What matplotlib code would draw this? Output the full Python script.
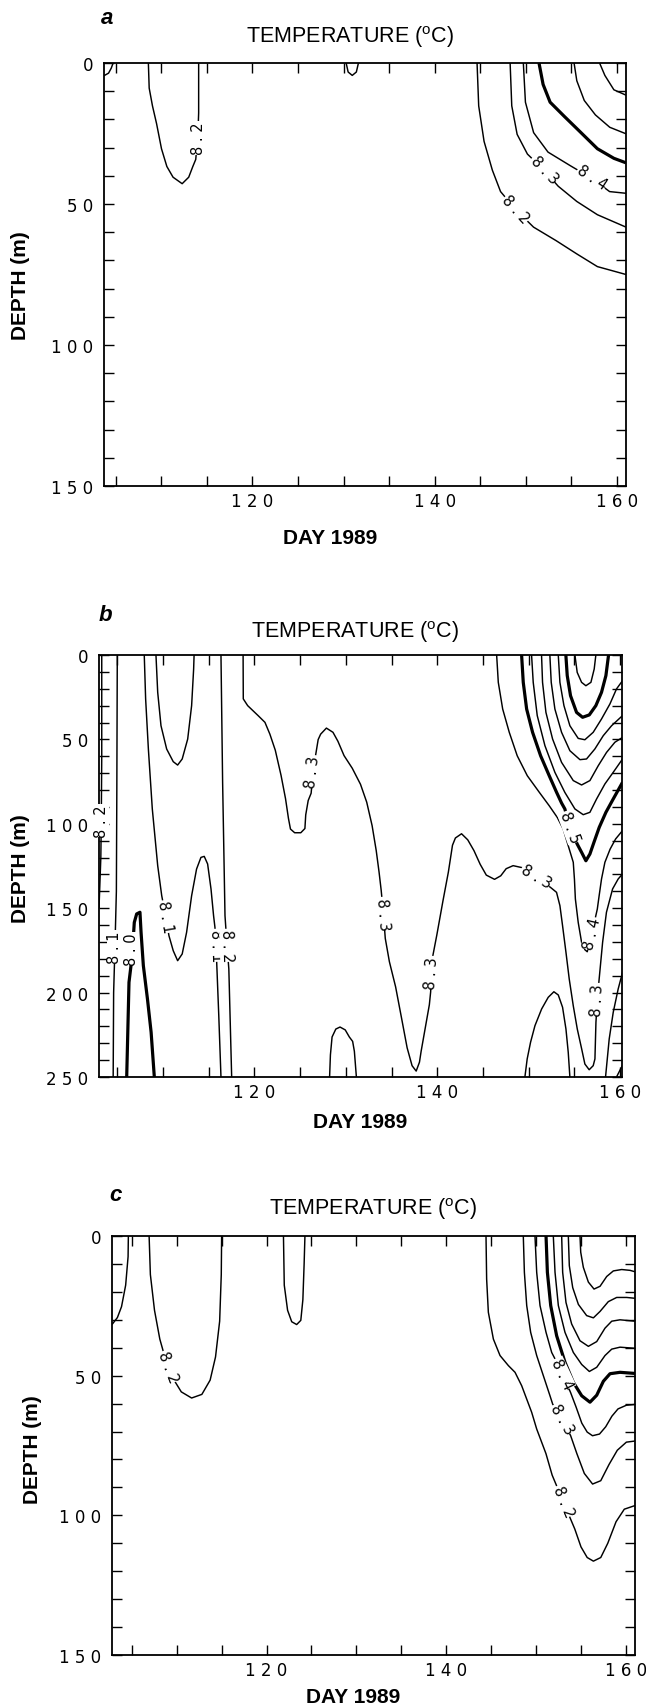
import matplotlib.pyplot as plt

plt.rcParams['font.family'] = ['DejaVu Sans']
plt.rcParams['mathtext.fontset'] = 'custom'
plt.rcParams['mathtext.rm'] = 'Liberation Sans'

# contour lines: (day of 1989, depth in m)

# ---- panel a
a_corner = [(103.7, 4.5), (104.2, 3.6), (104.5, 1.8), (104.7, 0)]
a_82_u = [(108.57, 0), (108.66, 8.9), (109.02, 15.2), (109.47, 21.5), (110.01, 30.4), (110.6, 36.7),
          (111.28, 40.5), (112.28, 42.8), (113.0, 40.5), (113.45, 36.7), (113.77, 34.2), (114.0, 26),
          (114.09, 17.7), (114.09, 0)]
a_bump = [(130.28, 0), (130.5, 3.2), (130.95, 4.4), (131.4, 3.2), (131.63, 0)]
a_82 = [(144.65, 0), (144.83, 15.2), (145.42, 27.8), (146.33, 38), (147.23, 45.6), (148.9, 52),
        (150.85, 58.2), (153.33, 63), (155.6, 67.7), (157.86, 72.2), (161.0, 75)]
a_83 = [(148.28, 0), (148.46, 15.2), (149.05, 25.3), (150.18, 32.3), (152.0, 38), (153.56, 43.7),
        (155.6, 49.1), (157.86, 53.8), (161.0, 58.2)]
a_84 = [(149.73, 0), (149.96, 13.9), (150.86, 24.7), (152.44, 31.6), (154.93, 36.5), (157.3, 41),
        (159.2, 45.6), (161.0, 46.2)]
a_85 = [(151.45, 0), (151.9, 7.6), (152.67, 13.9), (154.25, 19), (156.06, 24.7), (157.86, 30.4),
        (159.67, 33.8), (161.0, 35.4)]
a_86 = [(155.3, 0), (155.6, 6.3), (156.42, 13.3), (157.64, 18.4), (159.22, 22.8), (161.0, 25.1)]
a_87 = [(158.1, 0), (158.68, 4.4), (159.67, 9.5), (161.0, 11.4)]
a_labels = [(114.05, 26.6, '8.2', 90), (148.9, 51.9, '8.2', -47),
            (152.0, 37.7, '8.3', -46), (157.3, 40.5, '8.4', -33)]

# ---- panel b
b_82_edge = [(103.3, 0), (103.3, 60), (103.25, 98), (103.2, 120), (103.0, 150)]
b_81_a = [(105.0, 0), (104.95, 80), (104.9, 140), (104.75, 172), (104.6, 200), (104.55, 250)]
b_80 = [(106.03, 250), (106.28, 193.9), (106.5, 184), (106.7, 172), (106.86, 158.4), (107.12, 153.4),
        (107.48, 152.4), (107.6, 164.3), (107.85, 184), (108.3, 203.8), (108.7, 223.5), (109.05, 250)]
b_81_b = [(107.95, 0), (108.1, 26), (108.4, 55.7), (108.83, 91.2), (109.42, 124.8), (109.86, 142.6),
          (110.3, 155), (110.65, 166.3), (111.12, 175.2), (111.6, 181.1), (112.1, 177.1), (112.58, 164.3),
          (113.13, 142.6), (113.67, 126.8), (114.15, 119.9), (114.51, 119.3), (114.88, 123.8),
          (115.25, 138.6), (115.53, 154.4), (115.68, 161.3), (115.8, 172), (115.9, 186), (116.1, 213.7),
          (116.34, 250)]
b_u = [(109.23, 0), (109.42, 22.1), (109.78, 41.9), (110.4, 55.7), (111.12, 63.2), (111.6, 65.2),
       (112.1, 61.6), (112.7, 49.8), (113.13, 30), (113.35, 8.3), (113.4, 0)]
b_82 = [(116.34, 0), (116.52, 75.4), (116.78, 154.4), (117.0, 172), (117.2, 186), (117.51, 250)]
b_83 = [(118.76, 0), (118.78, 26), (119.26, 30), (120.42, 36), (121.15, 39.9), (121.69, 46.9),
        (122.28, 56.4), (122.91, 71.3), (123.4, 85.1), (123.72, 96.8), (123.94, 103.1), (124.4, 105.3),
        (125.07, 105.3), (125.52, 102.8), (125.61, 94.7), (125.88, 86.2), (126.2, 81.9), (126.4, 70),
        (126.65, 60.7), (126.97, 50.1), (127.24, 46.9), (127.87, 43.3), (128.59, 45.8), (129.13, 51.1),
        (129.8, 59.6), (130.7, 67.1), (131.6, 76.6), (132.28, 87.2), (132.87, 101.1), (133.32, 115.9),
        (133.63, 128.6), (133.86, 139.3), (134.1, 153), (134.31, 167.9), (134.76, 181.7),
        (135.44, 196.6), (136.11, 215.7), (136.7, 232.7), (137.24, 243.3), (137.69, 246.5),
        (138.05, 241.2), (138.23, 234.8), (138.68, 221), (139.13, 207.2), (139.27, 199.7), (139.4, 188),
        (139.5, 178.5), (139.95, 165.8), (140.62, 145.6), (141.21, 128.6), (141.66, 112.7),
        (141.98, 108.4), (142.65, 105.9), (143.33, 109.5), (144.01, 115.9), (144.69, 124),
        (145.36, 130.4), (146.26, 132.9), (146.94, 130.8), (147.53, 126.6), (148.29, 124.8),
        (149.3, 126), (150.8, 131), (152.5, 138.2), (153.04, 140.6), (153.41, 148.5), (153.7, 160.4),
        (154.07, 176.1), (154.43, 192), (154.87, 207.8), (155.31, 221.6), (155.79, 233.4),
        (156.14, 242.3), (156.61, 245.7), (157.05, 243.3), (157.24, 239.3), (157.35, 217.6),
        (157.5, 204), (157.7, 192), (158.08, 170.2), (158.5, 152.4), (159.17, 138.6), (159.78, 132.7),
        (160.26, 129.7)]
b_84 = [(146.49, 0), (146.67, 16.2), (147.15, 32), (147.87, 45.8), (148.74, 59.7), (149.84, 71.5),
        (151.15, 81.3), (152.24, 89.3), (153.12, 96.2), (153.77, 103.1), (154.32, 113), (154.87, 122.8),
        (155.0, 133), (155.1, 144.5), (155.41, 158.4), (155.78, 170.2), (156.14, 174.6), (156.4, 175.8),
        (156.9, 165), (157.5, 150.5), (157.7, 142.6), (157.96, 132.7), (158.33, 122.8), (158.9, 115),
        (159.5, 109), (160.26, 104)]
b_85 = [(149.22, 0), (149.4, 16.2), (149.77, 32), (150.42, 45.8), (151.3, 59.7), (152.24, 71.5),
        (153.04, 81.3), (153.59, 87.7), (153.95, 91.2), (154.5, 102), (155.3, 112), (155.78, 116.9),
        (156.25, 121.9), (156.69, 117.9), (157.13, 111), (157.71, 102.1), (158.44, 93.2),
        (159.24, 85.3), (160.26, 75.4)]
b_86 = [(150.31, 0), (150.49, 16.2), (150.93, 35.9), (151.77, 53.7), (152.86, 69.5), (153.95, 81.4),
        (155.05, 91.2), (155.96, 94.6), (156.69, 93.2), (157.42, 85.3), (158.33, 76.4), (159.24, 69.5),
        (160.26, 61.6)]
b_87 = [(151.4, 0), (151.51, 16.2), (151.88, 34), (152.61, 49.8), (153.59, 63.6), (154.87, 74.4),
        (155.78, 77), (156.69, 74.4), (157.6, 65.6), (158.51, 57.7), (159.42, 51.7), (160.26, 48.8)]
b_88 = [(152.31, 0), (152.46, 16.2), (152.86, 32), (153.59, 45.8), (154.5, 56.7), (155.6, 62),
        (156.32, 61.6), (157.23, 55.7), (158.15, 47.8), (159.06, 41.9), (160.26, 35.9)]
b_89 = [(153.23, 0), (153.41, 16.2), (153.85, 30), (154.5, 41.9), (155.41, 49.4), (156.14, 50.2),
        (157.05, 45.8), (157.96, 37.9), (158.88, 29), (159.6, 20.1), (160.26, 15.2)]
b_90 = [(154.06, 0), (154.21, 12.2), (154.57, 24.1), (155.23, 34), (155.89, 36.9), (156.62, 35.5),
        (157.34, 30), (157.96, 22.1), (158.44, 12.2), (158.73, 0)]
b_91 = [(155.05, 0), (155.3, 10.3), (155.78, 16.2), (156.25, 18.2), (156.8, 16.2), (157.16, 8.3),
        (157.34, 0)]
b_mound1 = [(128.22, 250), (128.31, 236.9), (128.49, 226.3), (128.9, 221.6), (129.36, 220.4),
            (129.93, 222.1), (130.38, 226.3), (130.74, 228.9), (130.93, 234.8), (131.15, 250)]
b_mound2 = [(149.58, 250), (149.83, 239.3), (150.2, 229.4), (150.68, 219.6), (151.41, 209.7),
            (152.13, 202.8), (152.75, 199.5), (153.23, 201.4), (153.7, 208.7), (154.07, 221.6),
            (154.32, 235.4), (154.5, 250)]
b_low1 = [(158.4, 250), (158.8, 227.5), (159.24, 211.7), (159.78, 197.9), (160.26, 188)]
b_low2 = [(159.6, 250), (160.26, 243)]
b_labels = [(103.25, 98, '8.2', 90), (104.7, 173, '8.1', 90), (106.55, 174, '8.0', 90),
            (110.3, 155, '8.1', -80), (115.75, 172, '8.1', -88), (117.05, 172, '8.2', -88),
            (126.4, 69, '8.3', 83), (134.1, 153, '8.3', -85), (139.4, 188, '8.3', 86),
            (150.8, 131, '8.3', -30), (154.5, 102, '8.5', -70), (156.9, 165, '8.4', 77),
            (157.5, 204, '8.3', 87)]

# ---- panel c
c_corner = [(104.62, 0), (104.59, 7.4), (104.32, 17.6), (103.86, 25.3), (103.4, 29.2), (102.8, 31.7)]
c_82_u = [(106.93, 0), (107.07, 13.8), (107.53, 26.6), (108.12, 36.9), (108.68, 43.3), (109.0, 47),
          (109.59, 51), (110.51, 55.8), (111.66, 58), (112.8, 56.7), (113.72, 51.6), (114.32, 43.3),
          (114.78, 30.5), (114.96, 13.8), (115.0, 0)]
c_u2 = [(121.88, 0), (121.97, 17.6), (122.34, 26.6), (122.8, 30.7), (123.35, 31.7), (123.81, 30.2),
        (124.04, 22.8), (124.18, 10), (124.27, 0)]
c_82 = [(144.42, 0), (144.49, 15.4), (144.68, 27.3), (145.24, 36.9), (145.98, 42.8), (146.91, 46.4),
        (147.65, 48.8), (148.39, 53.6), (148.95, 58.4), (149.5, 63.1), (150.06, 69.1), (151.09, 77.9),
        (151.78, 85.6), (153.0, 95), (154.3, 104.9), (154.99, 111.3), (155.68, 115.1), (156.37, 116.4),
        (157.19, 115.1), (157.97, 110), (158.89, 102.3), (159.81, 97.8), (161.0, 96.5)]
c_83 = [(148.57, 0), (148.69, 13), (148.95, 24.9), (149.39, 34.5), (150.06, 42.8), (150.8, 50),
        (151.54, 57.2), (151.84, 60.2), (152.9, 65.5), (153.84, 71.5), (154.53, 77.9), (155.36, 85),
        (156.28, 88.8), (157.19, 87.6), (158.11, 81.8), (159.03, 76.7), (160.04, 73.8), (161.0, 73.4)]
c_84 = [(149.87, 0), (150.06, 13), (150.43, 24.9), (151.1, 34.5), (151.73, 41.7), (152.9, 49),
        (153.84, 56.1), (154.44, 61.2), (155.08, 67), (155.68, 70.2), (156.27, 71.5), (157.05, 70.9),
        (157.74, 68.3), (158.43, 64.5), (159.11, 61.9), (160.03, 60.6), (161.0, 60.3)]
c_85 = [(151.1, 0), (151.25, 13), (151.62, 24.9), (152.28, 35.7), (153.21, 45.2), (154.14, 52.4),
        (155.07, 57.2), (155.99, 59.5), (156.74, 57), (157.48, 52), (158.22, 49.3), (159.33, 48.8),
        (161.0, 49.2)]
c_86 = [(151.91, 0), (152.1, 13), (152.47, 24.9), (153.21, 34.5), (154.14, 41.7), (155.07, 46),
        (155.92, 48.5), (156.74, 47), (157.66, 42.8), (158.41, 40.5), (159.33, 39.8), (161.0, 40.2)]
c_87 = [(152.84, 0), (152.95, 13), (153.32, 23.8), (153.95, 31.5), (154.88, 37.5), (155.81, 39.5),
        (156.74, 37.8), (157.66, 33), (158.41, 30.5), (159.33, 30), (161.0, 30.5)]
c_88 = [(153.58, 0), (153.69, 10.6), (154.07, 18.5), (154.7, 24.5), (155.62, 28.5), (156.37, 29.3),
        (157.11, 27), (158.03, 23.5), (158.96, 22), (160.08, 22), (161.0, 22.3)]
c_89 = [(154.88, 0), (154.96, 5.8), (155.25, 11.2), (155.81, 16.5), (156.44, 19), (157.11, 18),
        (157.85, 14.5), (158.59, 12.5), (159.52, 12), (160.45, 12.3), (161.0, 12.8)]
c_labels = [(109.0, 46.9, '8.2', -69), (152.9, 49.3, '8.4', -65),
            (152.9, 65.5, '8.3', -60), (153.0, 95, '8.2', -67)]

x_ticks = [105, 110, 115, 120, 125, 130, 135, 140, 145, 150, 155, 160]
x_ticklabels = ['120', '140', '160']


def spaced(s):
    return ' '.join(s)


def px(x, y):
    # figure pixel position -> figure fraction
    return x / 646, 1 - y / 1708


def panel(fig, box, xlim, ymax, lines, labels):
    l, r, t, b = box
    ax = fig.add_axes([l / 646, 1 - b / 1708, (r - l) / 646, (b - t) / 1708])
    for pts, bold in lines:
        ax.plot([p[0] for p in pts], [p[1] for p in pts], color='black',
                lw=2.3 if bold else 1.05, solid_joinstyle='round', solid_capstyle='butt')
    for x, y, s, rot in labels:
        ax.text(x, y, spaced(s), rotation=rot, rotation_mode='anchor', ha='center', va='center',
                fontsize=10.5, bbox=dict(facecolor='white', edgecolor='none', pad=0.2))
    ax.set_xlim(*xlim)
    ax.set_ylim(ymax, 0)
    ax.set_xticks(x_ticks)
    ax.set_xticklabels([spaced(str(t)) if str(t) in x_ticklabels else '' for t in x_ticks])
    yt = list(range(0, ymax + 1, 10))
    ax.set_yticks(yt)
    ax.set_yticklabels([spaced(str(v)) if v % 50 == 0 else '' for v in yt])
    ax.tick_params(direction='in', top=True, right=True, length=7, width=1, labelsize=12)
    ax.tick_params(axis='x', pad=4)
    ax.tick_params(axis='y', pad=8)
    for sp in ax.spines.values():
        sp.set_linewidth(1.3)
    return ax


fig = plt.figure(figsize=(6.46, 17.08), dpi=100)

panel(fig, (104, 626, 64, 487), (103.7, 161.0), 150,
      [(a_corner, False), (a_82_u, False), (a_bump, False), (a_82, False), (a_83, False),
       (a_84, False), (a_85, True), (a_86, False), (a_87, False)], a_labels)
panel(fig, (99, 622, 656, 1078), (103.0, 160.2), 250,
      [(b_82_edge, False), (b_81_a, False), (b_80, True), (b_81_b, False), (b_u, False), (b_82, False),
       (b_83, False), (b_84, False), (b_85, True), (b_86, False), (b_87, False), (b_88, False),
       (b_89, False), (b_90, True), (b_91, False), (b_mound1, False), (b_mound2, False),
       (b_low1, False), (b_low2, False)], b_labels)
panel(fig, (112, 635, 1237, 1656), (102.8, 161.0), 150,
      [(c_corner, False), (c_82_u, False), (c_u2, False), (c_82, False), (c_83, False),
       (c_84, False), (c_85, True), (c_86, False), (c_87, False), (c_88, False), (c_89, False)],
      c_labels)

head = ['Liberation Sans', 'DejaVu Sans']
title = 'TEMPERATURE ($\\mathregular{^o}$C)'
for letter, lxy, txy, dxy, yxy in [('a', (101, 19), (350, 37), (330, 538), (21, 286)),
                                   ('b', (99, 616), (355, 632), (360, 1123), (21, 869)),
                                   ('c', (109, 1196), (373, 1209), (353, 1698), (32, 1450))]:
    fig.text(*px(*lxy), letter, family=head, fontsize=16, fontweight='bold', fontstyle='italic',
             ha='left', va='center')
    fig.text(*px(*txy), title, family=head, fontsize=15.5, ha='center', va='center')
    fig.text(*px(*dxy), 'DAY 1989', family=head, fontsize=15, fontweight='bold', ha='center', va='center')
    fig.text(*px(*yxy), 'DEPTH (m)', family=head, fontsize=15, fontweight='bold', rotation=90,
             ha='center', va='center')

fig.savefig('out.png', dpi=100, facecolor='white')
